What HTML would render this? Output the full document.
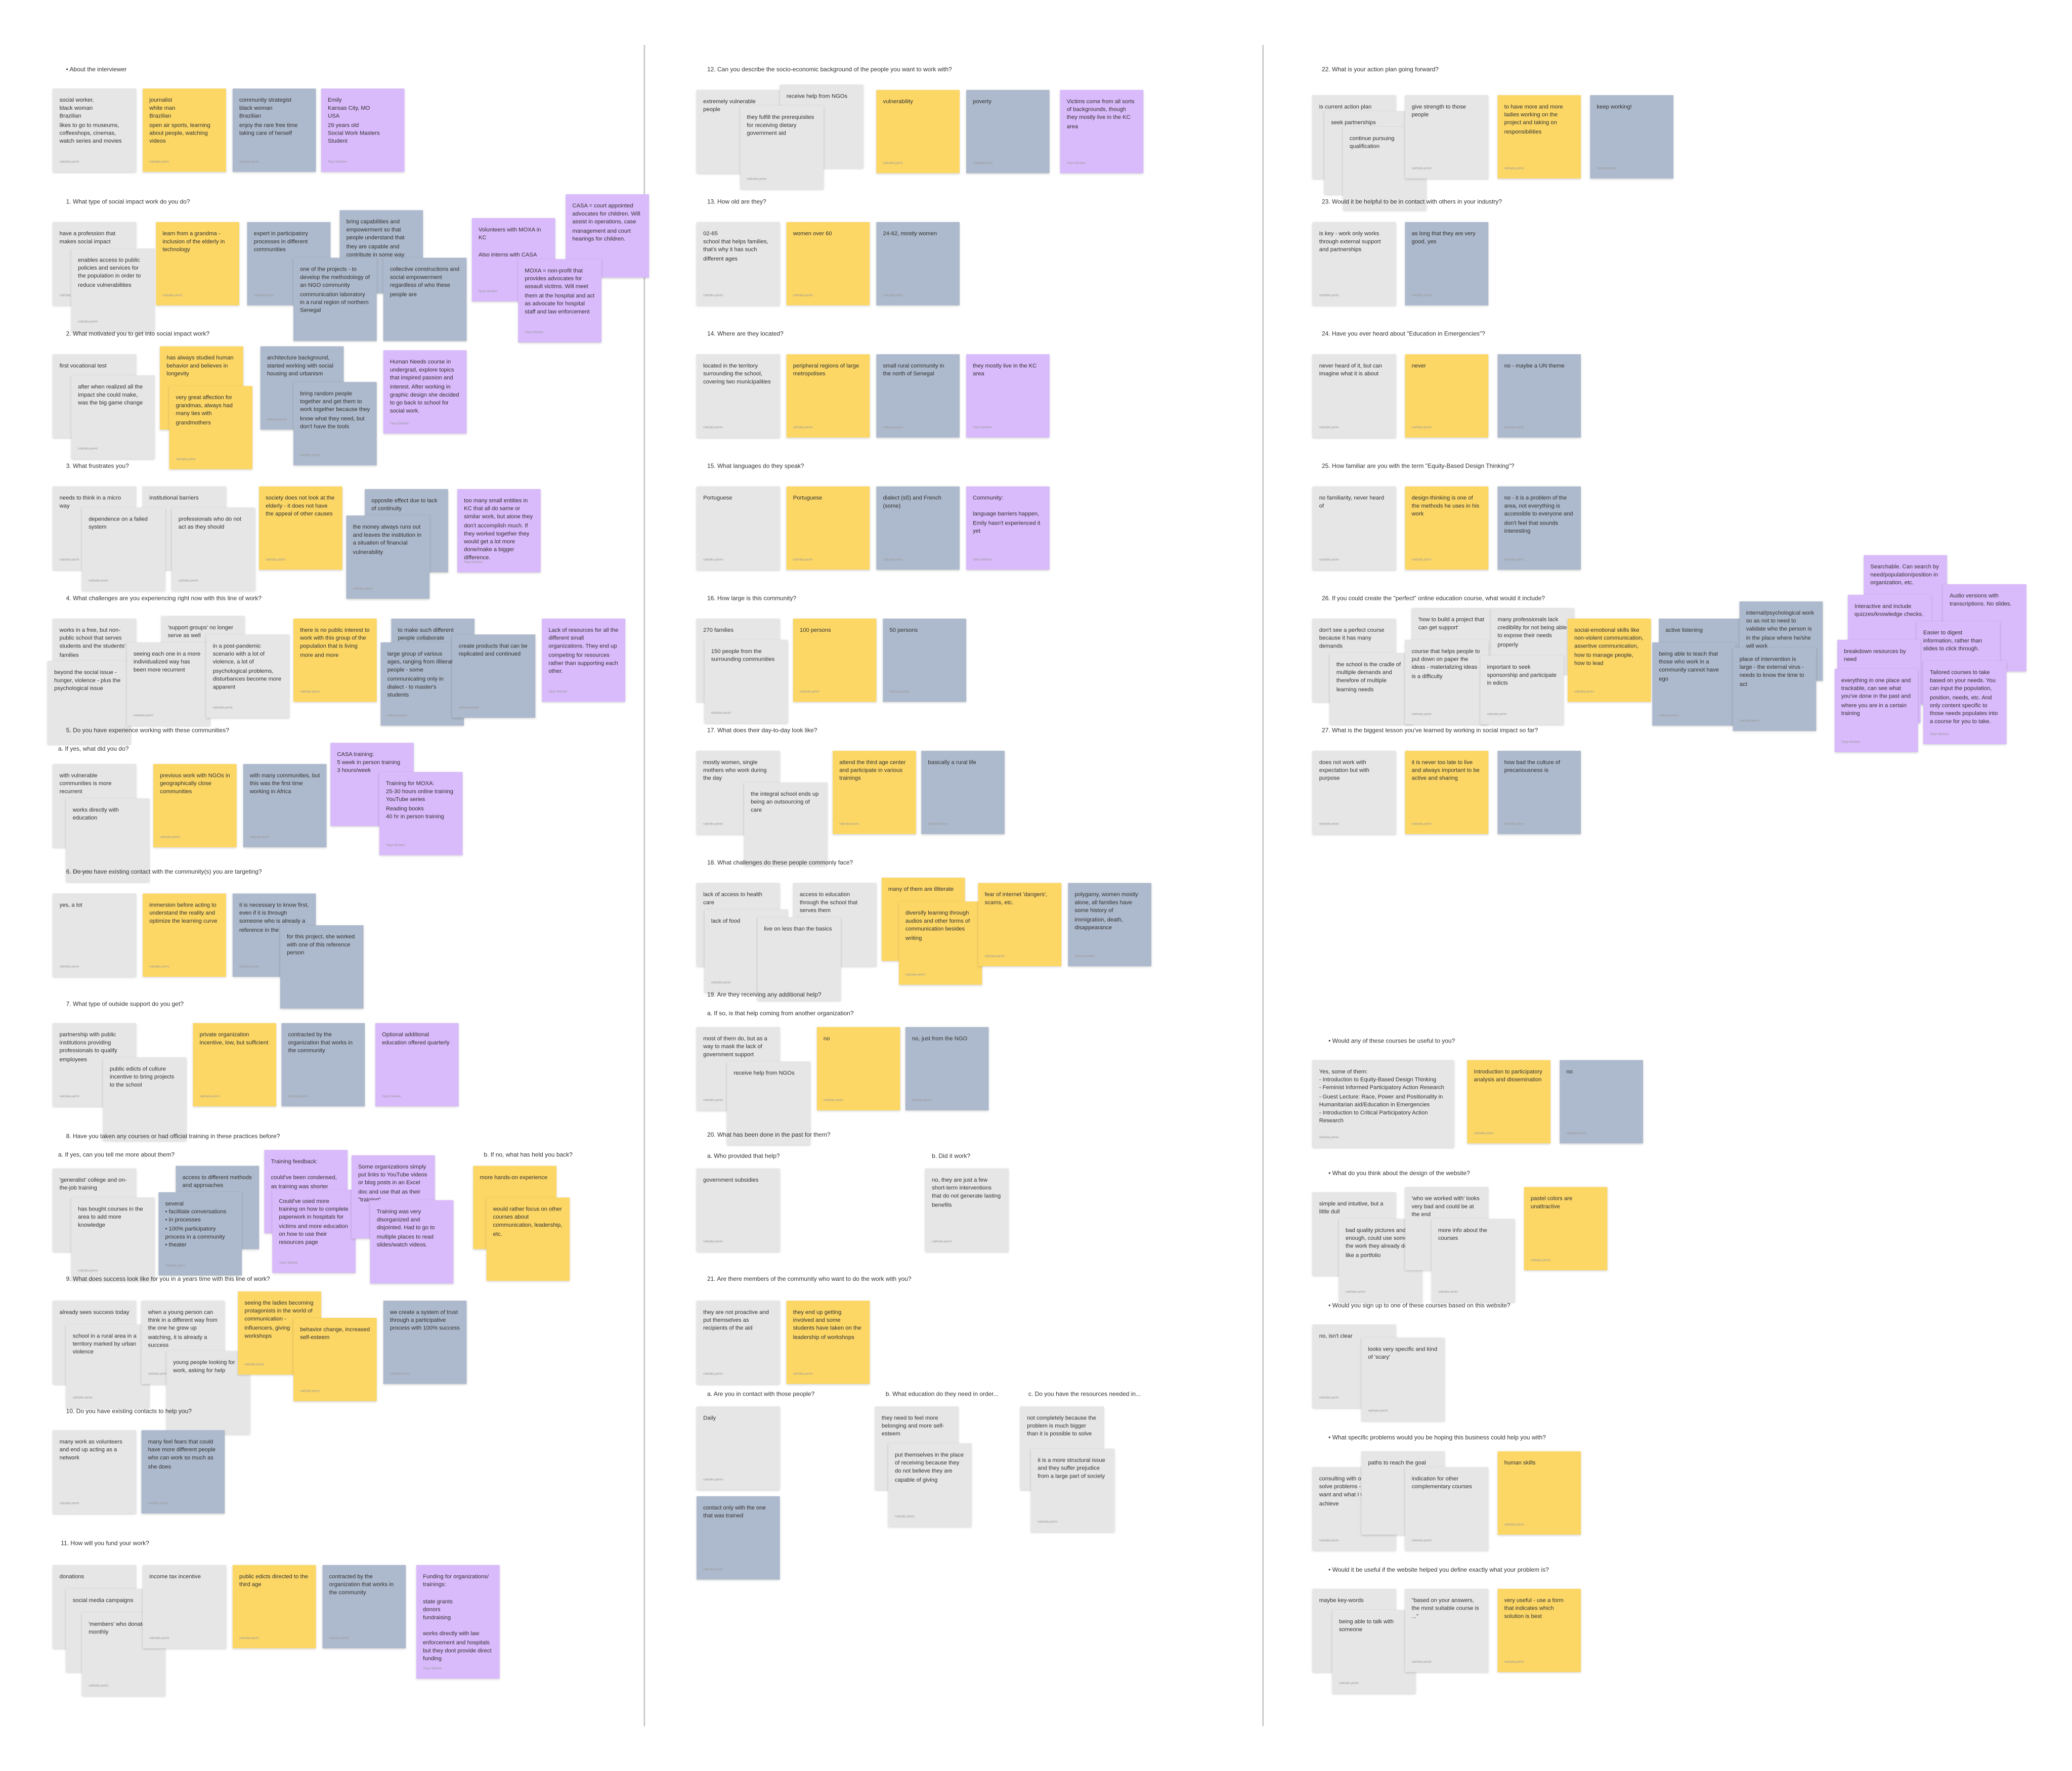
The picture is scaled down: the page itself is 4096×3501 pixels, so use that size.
<!DOCTYPE html>
<html><head><meta charset="utf-8">
<style>
html,body{margin:0;padding:0;background:#fff;}
body{width:4096px;height:3501px;overflow:hidden;position:relative;}
#c{position:absolute;left:0;top:0;width:1568px;height:1340px;transform:scale(2.613);transform-origin:0 0;font-family:"Liberation Sans",sans-serif;}
.n{position:absolute;width:63px;height:63px;box-sizing:border-box;padding:6px 5px;font-size:4.3px;line-height:6.2px;color:#333;box-shadow:0 0.6px 1.6px rgba(0,0,0,.18);overflow:hidden;}
.n i{position:absolute;left:5px;bottom:4px;font-style:normal;font-size:2.4px;color:#999;}
.g{background:#e6e6e6}.y{background:#fcd766}.b{background:#adb9cc}.p{background:#d9bafb}
.h{position:absolute;font-size:4.6px;color:#333;white-space:nowrap;}
.v{position:absolute;width:0.6px;background:#c4c4c4;top:34px;height:1272px;}
</style></head><body><div id="c">
<div class="v" style="left:487px"></div><div class="v" style="left:955px"></div>

<!-- COLUMN 1 -->
<div class="h" style="left:50px;top:50px">• About the interviewer</div>
<div class="n g" style="left:40px;top:67px">social worker,<br>black woman<br>Brazilian<br>likes to go to museums, coffeeshops, cinemas, watch series and movies<i>nathalia perini</i></div>
<div class="n y" style="left:108px;top:67px">journalist<br>white man<br>Brazilian<br>open air sports, learning about people, watching videos<i>nathalia perini</i></div>
<div class="n b" style="left:176px;top:67px">community strategist<br>black woman<br>Brazilian<br>enjoy the rare free time taking care of herself<i>nathalia perini</i></div>
<div class="n p" style="left:243px;top:67px">Emily<br>Kansas City, MO<br>USA<br>29 years old<br>Social Work Masters Student<i>Taryn Berbee</i></div>

<div class="h" style="left:50px;top:150px">1. What type of social impact work do you do?</div>
<div class="n g" style="left:40px;top:168px">have a profession that makes social impact<i>nathalia perini</i></div>
<div class="n g" style="left:54px;top:188px">enables access to public policies and services for the population in order to reduce vulnerabilities<i>nathalia perini</i></div>
<div class="n y" style="left:118px;top:168px">learn from a grandma - inclusion of the elderly in technology<i>nathalia perini</i></div>
<div class="n b" style="left:187px;top:168px">expert in participatory processes in different communities<i>nathalia perini</i></div>
<div class="n b" style="left:257px;top:159px">bring capabilities and empowerment so that people understand that they are capable and contribute in some way</div>
<div class="n b" style="left:222px;top:195px">one of the projects - to develop the methodology of an NGO community communication laboratory in a rural region of northern Senegal</div>
<div class="n b" style="left:290px;top:195px">collective constructions and social empowerment regardless of who these people are</div>
<div class="n p" style="left:357px;top:165px">Volunteers with MOXA in KC<br><br>Also interns with CASA<i>Taryn Berbee</i></div>
<div class="n p" style="left:428px;top:147px">CASA = court appointed advocates for children. Will assist in operations, case management and court hearings for children.</div>
<div class="n p" style="left:392px;top:196px;height:63px">MOXA = non-profit that provides advocates for assault victims. Will meet them at the hospital and act as advocate for hospital staff and law enforcement<i>Taryn Berbee</i></div>

<div class="h" style="left:50px;top:250px">2. What motivated you to get into social impact work?</div>
<div class="n g" style="left:40px;top:268px">first vocational test</div>
<div class="n g" style="left:54px;top:284px">after when realized all the impact she could make, was the big game change<i>nathalia perini</i></div>
<div class="n y" style="left:121px;top:262px">has always studied human behavior and believes in longevity</div>
<div class="n y" style="left:128px;top:292px">very great affection for grandmas, always had many ties with grandmothers<i>nathalia perini</i></div>
<div class="n b" style="left:197px;top:262px">architecture background, started working with social housing and urbanism<i>nathalia perini</i></div>
<div class="n b" style="left:222px;top:289px">bring random people together and get them to work together because they know what they need, but don't have the tools<i>nathalia perini</i></div>
<div class="n p" style="left:290px;top:265px">Human Needs course in undergrad, explore topics that inspired passion and interest. After working in graphic design she decided to go back to school for social work.<i>Taryn Berbee</i></div>

<div class="h" style="left:50px;top:350px">3. What frustrates you?</div>
<div class="n g" style="left:40px;top:368px">needs to think in a micro way<i>nathalia perini</i></div>
<div class="n g" style="left:108px;top:368px">institutional barriers</div>
<div class="n g" style="left:62px;top:384px">dependence on a failed system<i>nathalia perini</i></div>
<div class="n g" style="left:130px;top:384px">professionals who do not act as they should<i>nathalia perini</i></div>
<div class="n y" style="left:196px;top:368px">society does not look at the elderly - it does not have the appeal of other causes<i>nathalia perini</i></div>
<div class="n b" style="left:276px;top:370px">opposite effect due to lack of continuity</div>
<div class="n b" style="left:262px;top:390px">the money always runs out and leaves the institution in a situation of financial vulnerability<i>nathalia perini</i></div>
<div class="n p" style="left:346px;top:370px">too many small entities in KC that all do same or similar work, but alone they don't accomplish much. If they worked together they would get a lot more done/make a bigger difference.<i>Taryn Berbee</i></div>

<div class="h" style="left:50px;top:450px">4. What challenges are you experiencing right now with this line of work?</div>
<div class="n g" style="left:40px;top:468px">works in a free, but non-public school that serves students and the students' families</div>
<div class="n g" style="left:36px;top:500px">beyond the social issue - hunger, violence - plus the psychological issue</div>
<div class="n g" style="left:122px;top:466px">'support groups' no longer serve as well</div>
<div class="n g" style="left:96px;top:486px">seeing each one in a more individualized way has been more recurrent<i>nathalia perini</i></div>
<div class="n g" style="left:156px;top:480px">in a post-pandemic scenario with a lot of violence, a lot of psychological problems, disturbances become more apparent<i>nathalia perini</i></div>
<div class="n y" style="left:222px;top:468px">there is no public interest to work with this group of the population that is living more and more<i>nathalia perini</i></div>
<div class="n b" style="left:296px;top:468px">to make such different people collaborate</div>
<div class="n b" style="left:288px;top:486px">large group of various ages, ranging from illiterate people - some communicating only in dialect - to master's students<i>nathalia perini</i></div>
<div class="n b" style="left:342px;top:480px">create products that can be replicated and continued<i>nathalia perini</i></div>
<div class="n p" style="left:410px;top:468px">Lack of resources for all the different small organizations. They end up competing for resources rather than supporting each other.<i>Taryn Berbee</i></div>

<div class="h" style="left:50px;top:550px">5. Do you have experience working with these communities?</div>
<div class="h" style="left:44px;top:564px">a. If yes, what did you do?</div>
<div class="n g" style="left:40px;top:578px">with vulnerable communities is more recurrent</div>
<div class="n g" style="left:50px;top:604px">works directly with education<i>nathalia perini</i></div>
<div class="n y" style="left:116px;top:578px">previous work with NGOs in geographically close communities<i>nathalia perini</i></div>
<div class="n b" style="left:184px;top:578px">with many communities, but this was the first time working in Africa<i>nathalia perini</i></div>
<div class="n p" style="left:250px;top:562px">CASA training:<br>5 week in person training<br>3 hours/week</div>
<div class="n p" style="left:287px;top:584px">Training for MOXA:<br>25-30 hours online training<br>YouTube series<br>Reading books<br>40 hr in person training<i>Taryn Berbee</i></div>

<div class="h" style="left:50px;top:657px">6. Do you have existing contact with the community(s) you are targeting?</div>
<div class="n g" style="left:40px;top:676px">yes, a lot<i>nathalia perini</i></div>
<div class="n y" style="left:108px;top:676px">immersion before acting to understand the reality and optimize the learning curve<i>nathalia perini</i></div>
<div class="n b" style="left:176px;top:676px">it is necessary to know first, even if it is through someone who is already a reference in the community<i>nathalia perini</i></div>
<div class="n b" style="left:212px;top:700px">for this project, she worked with one of this reference person</div>

<div class="h" style="left:50px;top:757px">7. What type of outside support do you get?</div>
<div class="n g" style="left:40px;top:774px">partnership with public institutions providing professionals to qualify employees<i>nathalia perini</i></div>
<div class="n g" style="left:78px;top:800px">public edicts of culture incentive to bring projects to the school</div>
<div class="n y" style="left:146px;top:774px">private organization incentive, low, but sufficient<i>nathalia perini</i></div>
<div class="n b" style="left:213px;top:774px">contracted by the organization that works in the community<i>nathalia perini</i></div>
<div class="n p" style="left:284px;top:774px">Optional additional education offered quarterly<i>Taryn Berbee</i></div>

<div class="h" style="left:50px;top:857px">8. Have you taken any courses or had official training in these practices before?</div>
<div class="h" style="left:44px;top:871px">a. If yes, can you tell me more about them?</div>
<div class="h" style="left:366px;top:871px">b. If no, what has held you back?</div>
<div class="n g" style="left:40px;top:884px">'generalist' college and on-the-job training</div>
<div class="n g" style="left:54px;top:906px">has bought courses in the area to add more knowledge<i>nathalia perini</i></div>
<div class="n b" style="left:133px;top:882px">access to different methods and approaches</div>
<div class="n b" style="left:120px;top:902px">several<br>• facilitate conversations<br>• in processes<br>• 100% participatory process in a community<br>• theater<i>nathalia perini</i></div>
<div class="n p" style="left:200px;top:870px">Training feedback:<br><br>could've been condensed, as training was shorter</div>
<div class="n p" style="left:206px;top:900px">Could've used more training on how to complete paperwork in hospitals for victims and more education on how to use their resources page<i>Taryn Berbee</i></div>
<div class="n p" style="left:266px;top:874px">Some organizations simply put links to YouTube videos or blog posts in an Excel doc and use that as their "training"</div>
<div class="n p" style="left:280px;top:908px">Training was very disorganized and disjointed. Had to go to multiple places to read slides/watch videos.</div>
<div class="n y" style="left:358px;top:882px">more hands-on experience</div>
<div class="n y" style="left:368px;top:906px">would rather focus on other courses about communication, leadership, etc.</div>

<div class="h" style="left:50px;top:965px">9. What does success look like for you in a years time with this line of work?</div>
<div class="n g" style="left:40px;top:984px">already sees success today</div>
<div class="n g" style="left:50px;top:1002px">school in a rural area in a territory marked by urban violence<i>nathalia perini</i></div>
<div class="n g" style="left:107px;top:984px">when a young person can think in a different way from the one he grew up watching, it is already a success<i>nathalia perini</i></div>
<div class="n g" style="left:126px;top:1022px">young people looking for work, asking for help</div>
<div class="n y" style="left:180px;top:977px">seeing the ladies becoming protagonists in the world of communication - influencers, giving workshops<i>nathalia perini</i></div>
<div class="n y" style="left:222px;top:997px">behavior change, increased self-esteem<i>nathalia perini</i></div>
<div class="n b" style="left:290px;top:984px">we create a system of trust through a participative process with 100% success<i>nathalia perini</i></div>

<div class="h" style="left:50px;top:1065px">10. Do you have existing contacts to help you?</div>
<div class="n g" style="left:40px;top:1082px">many work as volunteers and end up acting as a network<i>nathalia perini</i></div>
<div class="n b" style="left:107px;top:1082px">many feel fears that could have more different people who can work so much as she does<i>nathalia perini</i></div>

<div class="h" style="left:46px;top:1165px">11. How will you fund your work?</div>
<div class="n g" style="left:40px;top:1184px">donations</div>
<div class="n g" style="left:50px;top:1202px">social media campaigns</div>
<div class="n g" style="left:62px;top:1220px">'members' who donate monthly<i>nathalia perini</i></div>
<div class="n g" style="left:108px;top:1184px">income tax incentive<i>nathalia perini</i></div>
<div class="n y" style="left:176px;top:1184px">public edicts directed to the third age<i>nathalia perini</i></div>
<div class="n b" style="left:244px;top:1184px">contracted by the organization that works in the community<i>nathalia perini</i></div>
<div class="n p" style="left:315px;top:1184px;height:86px">Funding for organizations/ trainings:<br><br>state grants<br>donors<br>fundraising<br><br>works directly with law enforcement and hospitals but they dont provide direct funding<i>Taryn Berbee</i></div>

<!-- COLUMN 2 -->
<div class="h" style="left:535px;top:50px">12. Can you describe the socio-economic background of the people you want to work with?</div>
<div class="n g" style="left:527px;top:68px">extremely vulnerable people</div>
<div class="n g" style="left:590px;top:64px">receive help from NGOs</div>
<div class="n g" style="left:560px;top:80px">they fulfill the prerequisites for receiving dietary government aid<i>nathalia perini</i></div>
<div class="n y" style="left:663px;top:68px">vulnerability<i>nathalia perini</i></div>
<div class="n b" style="left:731px;top:68px">poverty<i>nathalia perini</i></div>
<div class="n p" style="left:802px;top:68px">Victims come from all sorts of backgrounds, though they mostly live in the KC area<i>Taryn Berbee</i></div>

<div class="h" style="left:535px;top:150px">13. How old are they?</div>
<div class="n g" style="left:527px;top:168px">02-65<br>school that helps families, that's why it has such different ages<i>nathalia perini</i></div>
<div class="n y" style="left:595px;top:168px">women over 60<i>nathalia perini</i></div>
<div class="n b" style="left:663px;top:168px">24-62, mostly women<i>nathalia perini</i></div>

<div class="h" style="left:535px;top:250px">14. Where are they located?</div>
<div class="n g" style="left:527px;top:268px">located in the territory surrounding the school, covering two municipalities<i>nathalia perini</i></div>
<div class="n y" style="left:595px;top:268px">peripheral regions of large metropolises<i>nathalia perini</i></div>
<div class="n b" style="left:663px;top:268px">small rural community in the north of Senegal<i>nathalia perini</i></div>
<div class="n p" style="left:731px;top:268px">they mostly live in the KC area<i>Taryn Berbee</i></div>

<div class="h" style="left:535px;top:350px">15. What languages do they speak?</div>
<div class="n g" style="left:527px;top:368px">Portuguese<i>nathalia perini</i></div>
<div class="n y" style="left:595px;top:368px">Portuguese<i>nathalia perini</i></div>
<div class="n b" style="left:663px;top:368px">dialect (sß) and French (some)<i>nathalia perini</i></div>
<div class="n p" style="left:731px;top:368px">Community:<br><br>language barriers happen, Emily hasn't experienced it yet<i>Taryn Berbee</i></div>

<div class="h" style="left:535px;top:450px">16. How large is this community?</div>
<div class="n g" style="left:527px;top:468px">270 families</div>
<div class="n g" style="left:533px;top:484px">150 people from the surrounding communities<i>nathalia perini</i></div>
<div class="n y" style="left:600px;top:468px">100 persons<i>nathalia perini</i></div>
<div class="n b" style="left:668px;top:468px">50 persons<i>nathalia perini</i></div>

<div class="h" style="left:535px;top:550px">17. What does their day-to-day look like?</div>
<div class="n g" style="left:527px;top:568px">mostly women, single mothers who work during the day<i>nathalia perini</i></div>
<div class="n g" style="left:563px;top:592px">the integral school ends up being an outsourcing of care</div>
<div class="n y" style="left:630px;top:568px">attend the third age center and participate in various trainings<i>nathalia perini</i></div>
<div class="n b" style="left:697px;top:568px">basically a rural life<i>nathalia perini</i></div>

<div class="h" style="left:535px;top:650px">18. What challenges do these people commonly face?</div>
<div class="n g" style="left:527px;top:668px">lack of access to health care</div>
<div class="n g" style="left:533px;top:688px">lack of food<i>nathalia perini</i></div>
<div class="n g" style="left:600px;top:668px">access to education through the school that serves them</div>
<div class="n g" style="left:573px;top:694px">live on less than the basics</div>
<div class="n y" style="left:667px;top:664px">many of them are illiterate</div>
<div class="n y" style="left:680px;top:682px">diversify learning through audios and other forms of communication besides writing<i>nathalia perini</i></div>
<div class="n y" style="left:740px;top:668px">fear of internet 'dangers', scams, etc.<i>nathalia perini</i></div>
<div class="n b" style="left:808px;top:668px">polygamy, women mostly alone, all families have some history of immigration, death, disappearance<i>nathalia perini</i></div>

<div class="h" style="left:535px;top:750px">19. Are they receiving any additional help?</div>
<div class="h" style="left:535px;top:764px">a. If so, is that help coming from another organization?</div>
<div class="n g" style="left:527px;top:777px">most of them do, but as a way to mask the lack of government support<i>nathalia perini</i></div>
<div class="n g" style="left:550px;top:803px">receive help from NGOs</div>
<div class="n y" style="left:618px;top:777px">no<i>nathalia perini</i></div>
<div class="n b" style="left:685px;top:777px">no, just from the NGO<i>nathalia perini</i></div>

<div class="h" style="left:535px;top:856px">20. What has been done in the past for them?</div>
<div class="h" style="left:535px;top:872px">a. Who provided that help?</div>
<div class="h" style="left:705px;top:872px">b. Did it work?</div>
<div class="n g" style="left:527px;top:884px">government subsidies<i>nathalia perini</i></div>
<div class="n g" style="left:700px;top:884px">no, they are just a few short-term interventions that do not generate lasting benefits<i>nathalia perini</i></div>

<div class="h" style="left:535px;top:965px">21. Are there members of the community who want to do the work with you?</div>
<div class="n g" style="left:527px;top:984px">they are not proactive and put themselves as recipients of the aid<i>nathalia perini</i></div>
<div class="n y" style="left:595px;top:984px">they end up getting involved and some students have taken on the leadership of workshops<i>nathalia perini</i></div>
<div class="h" style="left:535px;top:1052px">a. Are you in contact with those people?</div>
<div class="h" style="left:670px;top:1052px">b. What education do they need in order...</div>
<div class="h" style="left:778px;top:1052px">c. Do you have the resources needed in...</div>
<div class="n g" style="left:527px;top:1064px">Daily<i>nathalia perini</i></div>
<div class="n b" style="left:527px;top:1132px">contact only with the one that was trained<i>nathalia perini</i></div>
<div class="n g" style="left:662px;top:1064px">they need to feel more belonging and more self-esteem</div>
<div class="n g" style="left:672px;top:1092px">put themselves in the place of receiving because they do not believe they are capable of giving<i>nathalia perini</i></div>
<div class="n g" style="left:772px;top:1064px">not completely because the problem is much bigger than it is possible to solve</div>
<div class="n g" style="left:780px;top:1096px">it is a more structural issue and they suffer prejudice from a large part of society<i>nathalia perini</i></div>

<!-- COLUMN 3 -->
<div class="h" style="left:1000px;top:50px">22. What is your action plan going forward?</div>
<div class="n g" style="left:993px;top:72px">is current action plan</div>
<div class="n g" style="left:1002px;top:84px">seek partnerships</div>
<div class="n g" style="left:1016px;top:96px">continue pursuing qualification</div>
<div class="n g" style="left:1063px;top:72px">give strength to those people<i>nathalia perini</i></div>
<div class="n y" style="left:1133px;top:72px">to have more and more ladies working on the project and taking on responsibilities<i>nathalia perini</i></div>
<div class="n b" style="left:1203px;top:72px">keep working!<i>nathalia perini</i></div>

<div class="h" style="left:1000px;top:150px">23. Would it be helpful to be in contact with others in your industry?</div>
<div class="n g" style="left:993px;top:168px">is key - work only works through external support and partnerships<i>nathalia perini</i></div>
<div class="n b" style="left:1063px;top:168px">as long that they are very good, yes<i>nathalia perini</i></div>

<div class="h" style="left:1000px;top:250px">24. Have you ever heard about "Education in Emergencies"?</div>
<div class="n g" style="left:993px;top:268px">never heard of it, but can imagine what it is about<i>nathalia perini</i></div>
<div class="n y" style="left:1063px;top:268px">never<i>nathalia perini</i></div>
<div class="n b" style="left:1133px;top:268px">no - maybe a UN theme<i>nathalia perini</i></div>

<div class="h" style="left:1000px;top:350px">25. How familiar are you with the term "Equity-Based Design Thinking"?</div>
<div class="n g" style="left:993px;top:368px">no familiarity, never heard of<i>nathalia perini</i></div>
<div class="n y" style="left:1063px;top:368px">design-thinking is one of the methods he uses in his work<i>nathalia perini</i></div>
<div class="n b" style="left:1133px;top:368px">no - it is a problem of the area, not everything is accessible to everyone and don't feel that sounds interesting<i>nathalia perini</i></div>

<div class="h" style="left:1000px;top:450px">26. If you could create the "perfect" online education course, what would it include?</div>
<div class="n g" style="left:993px;top:468px">don't see a perfect course because it has many demands</div>
<div class="n g" style="left:1006px;top:494px;height:54px">the school is the cradle of multiple demands and therefore of multiple learning needs</div>
<div class="n g" style="left:1068px;top:460px">'how to build a project that can get support'</div>
<div class="n g" style="left:1063px;top:484px;height:64px">course that helps people to put down on paper the ideas - materializing ideas is a difficulty<i>nathalia perini</i></div>
<div class="n g" style="left:1128px;top:460px;height:50px">many professionals lack credibility for not being able to expose their needs properly</div>
<div class="n g" style="left:1120px;top:496px;height:52px">important to seek sponsorship and participate in edicts<i>nathalia perini</i></div>
<div class="n y" style="left:1186px;top:468px">social-emotional skills like non-violent communication, assertive communication, how to manage people, how to lead<i>nathalia perini</i></div>
<div class="n b" style="left:1255px;top:468px">active listening</div>
<div class="n b" style="left:1250px;top:486px">being able to teach that those who work in a community cannot have ego<i>nathalia perini</i></div>
<div class="n b" style="left:1316px;top:455px;height:60px">internal/psychological work so as not to need to validate who the person is in the place where he/she will work</div>
<div class="n b" style="left:1311px;top:490px">place of intervention is large - the external virus - needs to know the time to act<i>nathalia perini</i></div>
<div class="n p" style="left:1410px;top:420px">Searchable. Can search by need/population/position in organization, etc.</div>
<div class="n p" style="left:1470px;top:442px;height:66px">Audio versions with transcriptions. No slides.</div>
<div class="n p" style="left:1398px;top:450px">Interactive and include quizzes/knowledge checks.</div>
<div class="n p" style="left:1450px;top:470px">Easier to digest information, rather than slides to click through.</div>
<div class="n p" style="left:1390px;top:484px">breakdown resources by need</div>
<div class="n p" style="left:1388px;top:506px">everything in one place and trackable, can see what you've done in the past and where you are in a certain training<i>Taryn Berbee</i></div>
<div class="n p" style="left:1455px;top:500px">Tailored courses to take based on your needs. You can input the population, position, needs, etc. And only content specific to those needs populates into a course for you to take.<i>Taryn Berbee</i></div>

<div class="h" style="left:1000px;top:550px">27. What is the biggest lesson you've learned by working in social impact so far?</div>
<div class="n g" style="left:993px;top:568px">does not work with expectation but with purpose<i>nathalia perini</i></div>
<div class="n y" style="left:1063px;top:568px">it is never too late to live and always important to be active and sharing<i>nathalia perini</i></div>
<div class="n b" style="left:1133px;top:568px">how bad the culture of precariousness is<i>nathalia perini</i></div>

<div class="h" style="left:1005px;top:785px">• Would any of these courses be useful to you?</div>
<div class="n g" style="left:993px;top:802px;width:107px;height:66px">Yes, some of them:<br>- Introduction to Equity-Based Design Thinking<br>- Feminist Informed Participatory Action Research<br>- Guest Lecture: Race, Power and Positionality in Humanitarian aid/Education in Emergencies<br>- Introduction to Critical Participatory Action Research<i>nathalia perini</i></div>
<div class="n y" style="left:1110px;top:802px">Introduction to participatory analysis and dissemination<i>nathalia perini</i></div>
<div class="n b" style="left:1180px;top:802px">no<i>nathalia perini</i></div>

<div class="h" style="left:1005px;top:885px">• What do you think about the design of the website?</div>
<div class="n g" style="left:993px;top:902px">simple and intuitive, but a little dull</div>
<div class="n g" style="left:1013px;top:922px">bad quality pictures and not enough, could use some of the work they already done like a portfolio<i>nathalia perini</i></div>
<div class="n g" style="left:1063px;top:898px">'who we worked with' looks very bad and could be at the end</div>
<div class="n g" style="left:1083px;top:922px">more info about the courses<i>nathalia perini</i></div>
<div class="n y" style="left:1153px;top:898px">pastel colors are unattractive<i>nathalia perini</i></div>

<div class="h" style="left:1005px;top:985px">• Would you sign up to one of these courses based on this website?</div>
<div class="n g" style="left:993px;top:1002px">no, isn't clear<i>nathalia perini</i></div>
<div class="n g" style="left:1030px;top:1012px">looks very specific and kind of 'scary'<i>nathalia perini</i></div>

<div class="h" style="left:1005px;top:1085px">• What specific problems would you be hoping this business could help you with?</div>
<div class="n g" style="left:993px;top:1110px">consulting with openness to solve problems - what I want and what I wish to achieve<i>nathalia perini</i></div>
<div class="n g" style="left:1030px;top:1098px">paths to reach the goal</div>
<div class="n g" style="left:1063px;top:1110px">indication for other complementary courses<i>nathalia perini</i></div>
<div class="n y" style="left:1133px;top:1098px">human skills<i>nathalia perini</i></div>

<div class="h" style="left:1005px;top:1185px">• Would it be useful if the website helped you define exactly what your problem is?</div>
<div class="n g" style="left:993px;top:1202px">maybe key-words</div>
<div class="n g" style="left:1008px;top:1218px">being able to talk with someone<i>nathalia perini</i></div>
<div class="n g" style="left:1063px;top:1202px">"based on your answers, the most suitable course is ..."<i>nathalia perini</i></div>
<div class="n y" style="left:1133px;top:1202px">very useful - use a form that indicates which solution is best<i>nathalia perini</i></div>
</div></body></html>
